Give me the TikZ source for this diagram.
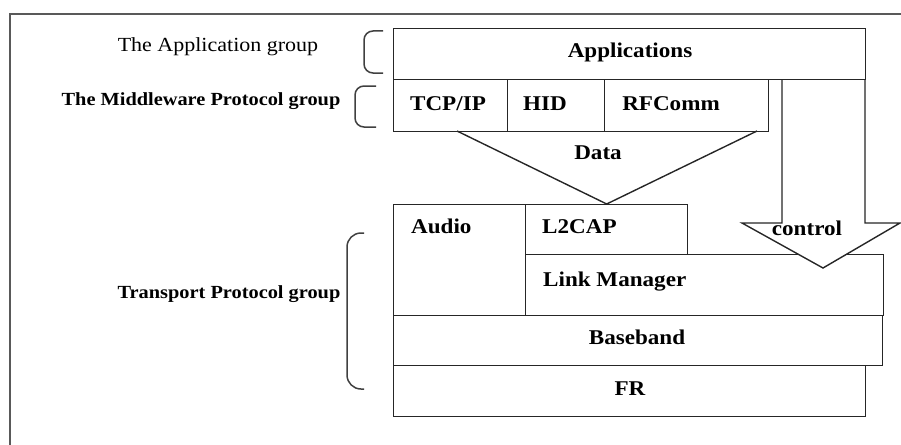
\documentclass[tikz,border=0pt]{standalone}
\usepackage{fontspec}
\setmainfont{Liberation Serif}[FakeStretch=1.1]
\begin{document}
\begin{tikzpicture}[x=1pt,y=-1pt,
  box/.style={draw=black!85, line width=1.4pt, inner sep=0pt, anchor=north west},
  lbl/.style={font=\bfseries\fontsize{21}{24}\selectfont, inner sep=0pt, anchor=base},
  grp/.style={font=\bfseries\fontsize{18.5}{22}\selectfont, inner sep=0pt, anchor=base},
  brk/.style={draw=black!75, line width=1.5pt, rounded corners=9pt},
  ln/.style={draw=black!85, line width=1.4pt}]
\useasboundingbox (0,0) rectangle (901,444);
% frame
\coordinate (fbl) at (10,448);
\coordinate (ftl) at (10,14);
\coordinate (ftr) at (905,14);
\draw[black!65, line width=2pt] (fbl) -- (ftl) -- (ftr);
% boxes
\node[box, minimum width=114pt, minimum height=52pt] (tcp) at (393,79) {};
\node[box, minimum width=97pt, minimum height=52pt] (hid) at (507,79) {};
\node[box, minimum width=164pt, minimum height=52pt] (rfc) at (604,79) {};
\node[box, minimum width=132pt, minimum height=111pt] (audio) at (393,204) {};
\node[box, minimum width=162pt, minimum height=50pt] (l2cap) at (525,204) {};
\node[box, minimum width=358pt, minimum height=61pt] (lm) at (525,254) {};
\node[box, minimum width=489pt, minimum height=50pt] (base) at (393,315) {};
\node[box, minimum width=472pt, minimum height=51pt] (fr) at (393,365) {};
% data triangle
\coordinate (dl) at (457,131);
\coordinate (dr) at (757,131);
\draw[ln] (dl) -- (l2cap.north) -- (dr);
% control arrow
\coordinate (c1) at (782,79);
\coordinate (c2) at (782,223);
\coordinate (c3) at (742,223);
\coordinate (c4) at (823,268);
\coordinate (c5) at (900,223);
\coordinate (c6) at (865,223);
\coordinate (c7) at (865,79);
\draw[ln, fill=white] (c1) -- (c2) -- (c3) -- (c4) -- (c5) -- (c6) -- (c7);
% applications box drawn over the arrow's open top
\node[box, minimum width=472pt, minimum height=51pt] (app) at (393,28) {};
% brackets
\coordinate (b1a) at (383,31); \coordinate (b1b) at (364,31);
\coordinate (b1c) at (364,73); \coordinate (b1d) at (383,73);
\draw[brk] (b1a) -- (b1b) -- (b1c) -- (b1d);
\coordinate (b2a) at (376,86); \coordinate (b2b) at (355,86);
\coordinate (b2c) at (355,127); \coordinate (b2d) at (376,127);
\draw[brk] (b2a) -- (b2b) -- (b2c) -- (b2d);
\coordinate (b3a) at (364,233); \coordinate (b3b) at (347,233);
\coordinate (b3c) at (347,389); \coordinate (b3d) at (364,389);
\draw[brk, rounded corners=14pt] (b3a) -- (b3b) -- (b3c) -- (b3d);
% texts
\node[lbl] (tapp) at (630,57) {Applications};
\node[lbl] (ttcp) at (448,110) {TCP/IP};
\node[lbl] (thid) at (545,110) {HID};
\node[lbl] (trfc) at (671,110) {RFComm};
\node[lbl] (tdata) at (598,159) {Data};
\node[lbl, anchor=base west] (taudio) at (411,233) {Audio};
\node[lbl, anchor=base west] (tl2) at (542,233) {L2CAP};
\node[lbl] (tctl) at (807,235) {control};
\node[lbl, anchor=base west] (tlm) at (543,286) {Link Manager};
\node[lbl] (tbase) at (637,344) {Baseband};
\node[lbl] (tfr) at (630,395) {FR};
\node[font=\fontsize{20}{24}\selectfont, inner sep=0pt, anchor=base] (gapp) at (218,52) {The Application group};
\node[grp] (gmw) at (201,105) {The Middleware Protocol group};
\node[grp] (gtr) at (229,298) {Transport Protocol group};
\end{tikzpicture}
\end{document}
